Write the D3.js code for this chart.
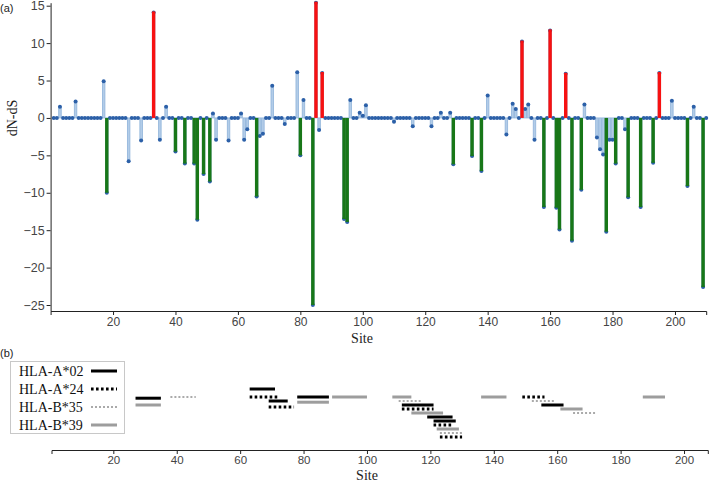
<!DOCTYPE html>
<html>
<head>
<meta charset="utf-8">
<script src="https://cdn.jsdelivr.net/npm/d3@7"></script>
<style>
body{margin:0;background:#fff}
svg{display:block}
</style>
</head>
<body>
<svg width="709" height="482"></svg>
<script>
// dN-dS per site, sites 1..210
var dnds = [
	0,0,1.5,0,0,0,0,2.2,0,0,
	0,0,0,0,0,0,4.9,-10,0,0,
	0,0,0,0,-5.8,0,0,0,-3.0,0,
	0,0,14.1,0,-2.9,0,1.5,0,0,-4.5,
	0,0,-6.1,0,0,-6.1,-13.6,0,-7.5,0,
	-8.5,0.6,-2.9,0,0,0,-3.0,0,0,0,
	0.6,-2.9,-1.5,0,0,-10.5,-2.4,-2.1,0,0,
	4.3,0,0,0,-0.8,0,0,0,6.1,-5.0,
	2.4,0,0,-25,15.4,-1.6,6.0,0,0,0,
	0,0,0,-13.5,-13.9,2.4,0,0,0.7,0.3,
	1.7,0,0,0,0,0,0,0,0,-0.5,
	0,0,0,0,0,-1.1,0,0,0,0,
	0,-1.1,0,0,0.7,0,0,0.7,-6.2,0,
	0,0,0,0,-5.1,0,0,-7.1,0,3.0,
	0,0,0,0,0,-2.2,0,1.9,1.2,0,
	10.2,1.2,1.8,0,-2.9,0,0,-11.9,0,11.7,
	0,-12,-14.9,0,5.9,0,-16.4,0,0,-9.6,
	1.8,0,0,0,-2.6,-4.2,-4.9,-15.2,-2.9,-2.9,
	-6.1,0,0,-1.5,-10.6,0,0,0,-11.9,0,
	0,0,-6.0,0,6.0,0,0,0,2.3,0,
	0,0,0,-9.1,0,1.5,0,0,-22.6,0
];

// sites with significant selection (drawn as coloured bars)
var sigSites = [18,33,40,43,46,47,49,51,66,80,84,85,87,94,95,129,135,138,
	151,158,160,162,163,165,167,170,178,181,185,189,193,195,204,209];

var yTicks = [15,10,5,0,-5,-10,-15,-20,-25];
var siteTicks = [20,40,60,80,100,120,140,160,180,200];

// epitope ranges: allele, start site, end site, track row
var alleles = ["HLA-A*02","HLA-A*24","HLA-B*35","HLA-B*39"];
var epitopes = [
	["HLA-A*02",27,35,2.3],["HLA-B*39",27,35,4],["HLA-B*35",38,46,2],
	["HLA-A*02",63,71,0],["HLA-A*24",63,72,2],["HLA-A*02",69,75,3],["HLA-A*24",69,77,4.5],
	["HLA-A*02",78,88,2],["HLA-B*39",78,88,3.3],["HLA-B*39",89,100,2],
	["HLA-B*39",108,114,2],["HLA-B*35",110,117,3],["HLA-A*02",111,121,4],["HLA-A*24",111,121,5],
	["HLA-B*39",114,124,6],["HLA-A*02",119,127,7],["HLA-A*02",121,128,8],["HLA-A*24",121,127,9],
	["HLA-B*39",122,129,10],["HLA-B*35",123,130,11],["HLA-A*24",123,130,12],
	["HLA-B*39",136,144,2],["HLA-A*24",149,156,2],["HLA-B*35",152,159,3],["HLA-A*02",155,162,4],
	["HLA-B*39",161,168,5],["HLA-B*35",165,172,6],["HLA-B*39",187,194,2]
];

var svg = d3.select('svg');
var tickFont = "Liberation Sans, Arial, sans-serif";
var serif = "Liberation Serif, Times New Roman, serif";

// styles per allele
var lineStyle = {
	"HLA-A*02": {stroke: "#000", width: 3, dash: null},
	"HLA-A*24": {stroke: "#000", width: 3, dash: "2.6,2.4"},
	"HLA-B*35": {stroke: "#aaa", width: 2, dash: "2,2"},
	"HLA-B*39": {stroke: "#9d9d9d", width: 3, dash: null}
};

// ---------- panel (a) ----------
var x = d3.scaleLinear().domain([0, 210]).range([50.6, 706.2]);
var y = d3.scaleLinear().domain([-25.8, 15.4]).range([311, 2.7]);
var step = x(1) - x(0);

var points = dnds.map(function(v, i) {return {site: i + 1, v: v}});

// light bars for every non-zero site
svg.selectAll('rect.val').data(points.filter(function(d) {return d.v !== 0})).enter().append('rect')
	.attr('class', 'val')
	.attr('x', function(d) {return x(d.site) - step / 2 + 0.3})
	.attr('width', step - 0.6)
	.attr('y', function(d) {return Math.min(y(d.v), y(0))})
	.attr('height', function(d) {return Math.abs(y(d.v) - y(0))})
	.attr('fill', '#b2cce8')
	.attr('stroke', '#8fb3da')
	.attr('stroke-width', 0.8);

svg.selectAll('circle.pt').data(points).enter().append('circle')
	.attr('class', 'pt')
	.attr('cx', function(d) {return x(d.site)})
	.attr('cy', function(d) {return y(d.v)})
	.attr('r', 2)
	.attr('fill', '#2c60a8');

svg.selectAll('rect.sig').data(sigSites).enter().append('rect')
	.attr('class', 'sig')
	.attr('x', function(s) {return x(s) - 1.7})
	.attr('width', 3.4)
	.attr('y', function(s) {var v = dnds[s - 1]; return v > 0 ? y(v) - 1 : y(0)})
	.attr('height', function(s) {var v = dnds[s - 1]; return v > 0 ? y(0) - y(v) + 1 : y(v) - y(0)})
	.attr('fill', function(s) {return dnds[s - 1] > 0 ? '#f71111' : '#187718'});

var yAxis = svg.append('g')
	.attr('transform', 'translate(' + x(0) + ',0)')
	.call(d3.axisLeft(y).tickValues(yTicks).tickSize(4).tickSizeOuter(0).tickPadding(2)
		.tickFormat(function(d) {return d < 0 ? '\u2212' + Math.abs(d) : d}));

var xAxisA = svg.append('g')
	.attr('transform', 'translate(0,' + y.range()[0] + ')')
	.call(d3.axisBottom(x).tickValues(siteTicks).tickSize(4).tickSizeOuter(4).tickPadding(2));

yAxis.selectAll('text').attr('font-size', 12.5);
xAxisA.selectAll('text').attr('font-size', 12);
[yAxis, xAxisA].forEach(function(g) {
	g.selectAll('text').attr('font-family', tickFont).attr('fill', '#444');
	g.selectAll('path, line').attr('stroke', '#222');
});

svg.append('text').text('Site')
	.attr('x', 362).attr('y', 343).attr('text-anchor', 'middle')
	.attr('font-family', serif).attr('font-size', 14).attr('fill', '#222');

svg.append('text').text('dN-dS')
	.attr('transform', 'translate(17,118) rotate(-90)')
	.attr('text-anchor', 'middle')
	.attr('font-family', serif).attr('font-size', 14).attr('fill', '#222');

svg.append('text').text('(a)')
	.attr('x', 0).attr('y', 12)
	.attr('font-family', tickFont).attr('font-size', 11).attr('fill', '#222');

// ---------- panel (b) ----------
var xb = d3.scaleLinear().domain([0.5, 207.5]).range([51.5, 707.8]);
var rowY = d3.scaleLinear().domain([0, 12]).range([389, 437]);

svg.append('text').text('(b)')
	.attr('x', 0).attr('y', 357)
	.attr('font-family', tickFont).attr('font-size', 11).attr('fill', '#222');

svg.selectAll('line.epi').data(epitopes).enter().append('line')
	.attr('class', 'epi')
	.attr('x1', function(d) {return xb(d[1])})
	.attr('x2', function(d) {return xb(d[2])})
	.attr('y1', function(d) {return rowY(d[3])})
	.attr('y2', function(d) {return rowY(d[3])})
	.attr('stroke', function(d) {return lineStyle[d[0]].stroke})
	.attr('stroke-width', function(d) {return lineStyle[d[0]].width})
	.attr('stroke-dasharray', function(d) {return lineStyle[d[0]].dash});

var xAxisB = svg.append('g')
	.attr('transform', 'translate(0,450)')
	.call(d3.axisBottom(xb).tickValues(siteTicks).tickSize(4).tickSizeOuter(4).tickPadding(2));
xAxisB.selectAll('text').attr('font-family', tickFont).attr('font-size', 11.5).attr('fill', '#444');
xAxisB.selectAll('path, line').attr('stroke', '#222');

svg.append('text').text('Site')
	.attr('x', 367).attr('y', 480).attr('text-anchor', 'middle')
	.attr('font-family', serif).attr('font-size', 14).attr('fill', '#222');

// legend
var legend = svg.append('g').attr('transform', 'translate(10,361)');
legend.append('rect')
	.attr('x', 0.5).attr('y', 0.5).attr('width', 114).attr('height', 72)
	.attr('fill', '#fff').attr('stroke', '#c8c8c8');

var item = legend.selectAll('g.item').data(alleles).enter().append('g')
	.attr('class', 'item')
	.attr('transform', function(d, i) {return 'translate(0,' + (10 + i * 18) + ')'});

item.append('text').text(function(d) {return d})
	.attr('x', 9).attr('y', 5)
	.attr('font-family', serif).attr('font-size', 14).attr('fill', '#111');

item.append('line')
	.attr('x1', 81).attr('x2', 107).attr('y1', 0).attr('y2', 0)
	.attr('stroke', function(d) {return lineStyle[d].stroke})
	.attr('stroke-width', function(d) {return lineStyle[d].width})
	.attr('stroke-dasharray', function(d) {return lineStyle[d].dash});
</script>
</body>
</html>
